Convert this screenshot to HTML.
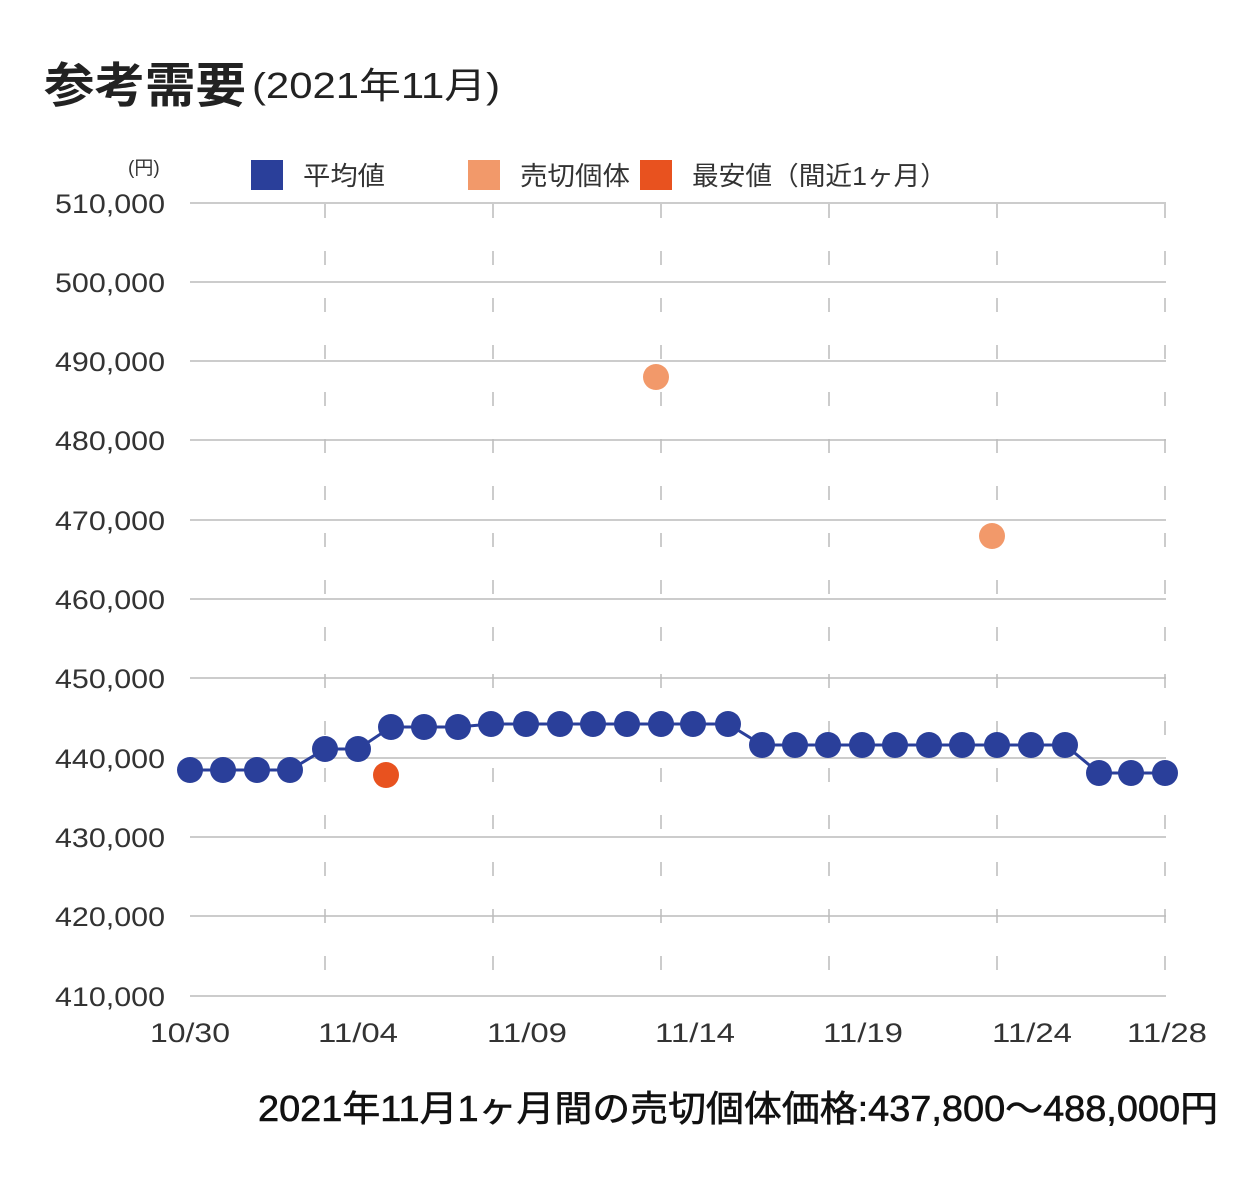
<!DOCTYPE html>
<html><head><meta charset="utf-8"><style>
body{margin:0;background:#fff;width:1260px;height:1190px;overflow:hidden}
text{font-family:"Liberation Sans","Noto Sans CJK JP",sans-serif}
</style></head><body>
<svg width="1260" height="1190" xmlns="http://www.w3.org/2000/svg">
<text x="44" y="102" font-size="48" font-weight="bold" fill="#222" textLength="202" lengthAdjust="spacingAndGlyphs">参考需要</text>
<text x="252" y="98" font-size="36" fill="#222" textLength="248" lengthAdjust="spacingAndGlyphs">(2021年11月)</text>
<text x="128" y="174" font-size="19" fill="#333">(円)</text>
<rect x="251" y="160" width="32" height="30" fill="#2a3f9a"/>
<text x="303" y="185" font-size="26" fill="#333" textLength="82" lengthAdjust="spacingAndGlyphs">平均値</text>
<rect x="468" y="160" width="32" height="30" fill="#f2996a"/>
<text x="520" y="185" font-size="26" fill="#333" textLength="110" lengthAdjust="spacingAndGlyphs">売切個体</text>
<rect x="640" y="160" width="32" height="30" fill="#e8521f"/>
<text x="692" y="185" font-size="26" fill="#333" textLength="255" lengthAdjust="spacingAndGlyphs">最安値（間近1ヶ月）</text>
<g stroke="#ccc" stroke-width="2">
<line x1="190" y1="203" x2="1166" y2="203"/><line x1="190" y1="282" x2="1166" y2="282"/>
<line x1="190" y1="361" x2="1166" y2="361"/><line x1="190" y1="440" x2="1166" y2="440"/>
<line x1="190" y1="520" x2="1166" y2="520"/><line x1="190" y1="599" x2="1166" y2="599"/>
<line x1="190" y1="678" x2="1166" y2="678"/><line x1="190" y1="758" x2="1166" y2="758"/>
<line x1="190" y1="837" x2="1166" y2="837"/><line x1="190" y1="916" x2="1166" y2="916"/>
<line x1="190" y1="996" x2="1166" y2="996"/>
</g>
<g stroke="#bbb" stroke-width="1.5" stroke-dasharray="14 33">
<line x1="325" y1="204" x2="325" y2="996"/><line x1="493" y1="204" x2="493" y2="996"/>
<line x1="661" y1="204" x2="661" y2="996"/><line x1="829" y1="204" x2="829" y2="996"/>
<line x1="997" y1="204" x2="997" y2="996"/><line x1="1165" y1="204" x2="1165" y2="996"/>
</g>
<g font-size="27" fill="#333">
<text x="55" y="213" textLength="110" lengthAdjust="spacingAndGlyphs">510,000</text><text x="55" y="292" textLength="110" lengthAdjust="spacingAndGlyphs">500,000</text>
<text x="55" y="371" textLength="110" lengthAdjust="spacingAndGlyphs">490,000</text><text x="55" y="450" textLength="110" lengthAdjust="spacingAndGlyphs">480,000</text>
<text x="55" y="530" textLength="110" lengthAdjust="spacingAndGlyphs">470,000</text><text x="55" y="609" textLength="110" lengthAdjust="spacingAndGlyphs">460,000</text>
<text x="55" y="688" textLength="110" lengthAdjust="spacingAndGlyphs">450,000</text><text x="55" y="768" textLength="110" lengthAdjust="spacingAndGlyphs">440,000</text>
<text x="55" y="847" textLength="110" lengthAdjust="spacingAndGlyphs">430,000</text><text x="55" y="926" textLength="110" lengthAdjust="spacingAndGlyphs">420,000</text>
<text x="55" y="1006" textLength="110" lengthAdjust="spacingAndGlyphs">410,000</text>
</g>
<g font-size="27" fill="#333">
<text x="150" y="1042" textLength="80" lengthAdjust="spacingAndGlyphs">10/30</text><text x="318" y="1042" textLength="80" lengthAdjust="spacingAndGlyphs">11/04</text>
<text x="487" y="1042" textLength="80" lengthAdjust="spacingAndGlyphs">11/09</text><text x="655" y="1042" textLength="80" lengthAdjust="spacingAndGlyphs">11/14</text>
<text x="823" y="1042" textLength="80" lengthAdjust="spacingAndGlyphs">11/19</text><text x="992" y="1042" textLength="80" lengthAdjust="spacingAndGlyphs">11/24</text>
<text x="1127" y="1042" textLength="80" lengthAdjust="spacingAndGlyphs">11/28</text>
</g>
<polyline fill="none" stroke="#2a3f9a" stroke-width="3" points="190,770 223,770 257,770 290,770 325,749 358,749 391,727 424,727 458,727 491,724 526,724 560,724 593,724 627,724 661,724 693,724 728,724 762,745 795,745 828,745 862,745 895,745 929,745 962,745 997,745 1031,745 1065,745 1099,773 1131,773 1165,773"/>
<g fill="#2a3f9a">
<circle cx="190" cy="770" r="13"/><circle cx="223" cy="770" r="13"/><circle cx="257" cy="770" r="13"/><circle cx="290" cy="770" r="13"/>
<circle cx="325" cy="749" r="13"/><circle cx="358" cy="749" r="13"/><circle cx="391" cy="727" r="13"/><circle cx="424" cy="727" r="13"/>
<circle cx="458" cy="727" r="13"/><circle cx="491" cy="724" r="13"/><circle cx="526" cy="724" r="13"/><circle cx="560" cy="724" r="13"/>
<circle cx="593" cy="724" r="13"/><circle cx="627" cy="724" r="13"/><circle cx="661" cy="724" r="13"/><circle cx="693" cy="724" r="13"/>
<circle cx="728" cy="724" r="13"/><circle cx="762" cy="745" r="13"/><circle cx="795" cy="745" r="13"/><circle cx="828" cy="745" r="13"/>
<circle cx="862" cy="745" r="13"/><circle cx="895" cy="745" r="13"/><circle cx="929" cy="745" r="13"/><circle cx="962" cy="745" r="13"/>
<circle cx="997" cy="745" r="13"/><circle cx="1031" cy="745" r="13"/><circle cx="1065" cy="745" r="13"/><circle cx="1099" cy="773" r="13"/>
<circle cx="1131" cy="773" r="13"/><circle cx="1165" cy="773" r="13"/>
</g>
<circle cx="386" cy="775" r="13" fill="#e8521f"/>
<circle cx="656" cy="377" r="13" fill="#f2996a"/>
<circle cx="992" cy="536" r="13" fill="#f2996a"/>
<text x="258" y="1121" font-size="36" fill="#111" stroke="#111" stroke-width="0.6" textLength="960" lengthAdjust="spacingAndGlyphs">2021年11月1ヶ月間の売切個体価格:437,800〜488,000円</text>
</svg>
</body></html>
